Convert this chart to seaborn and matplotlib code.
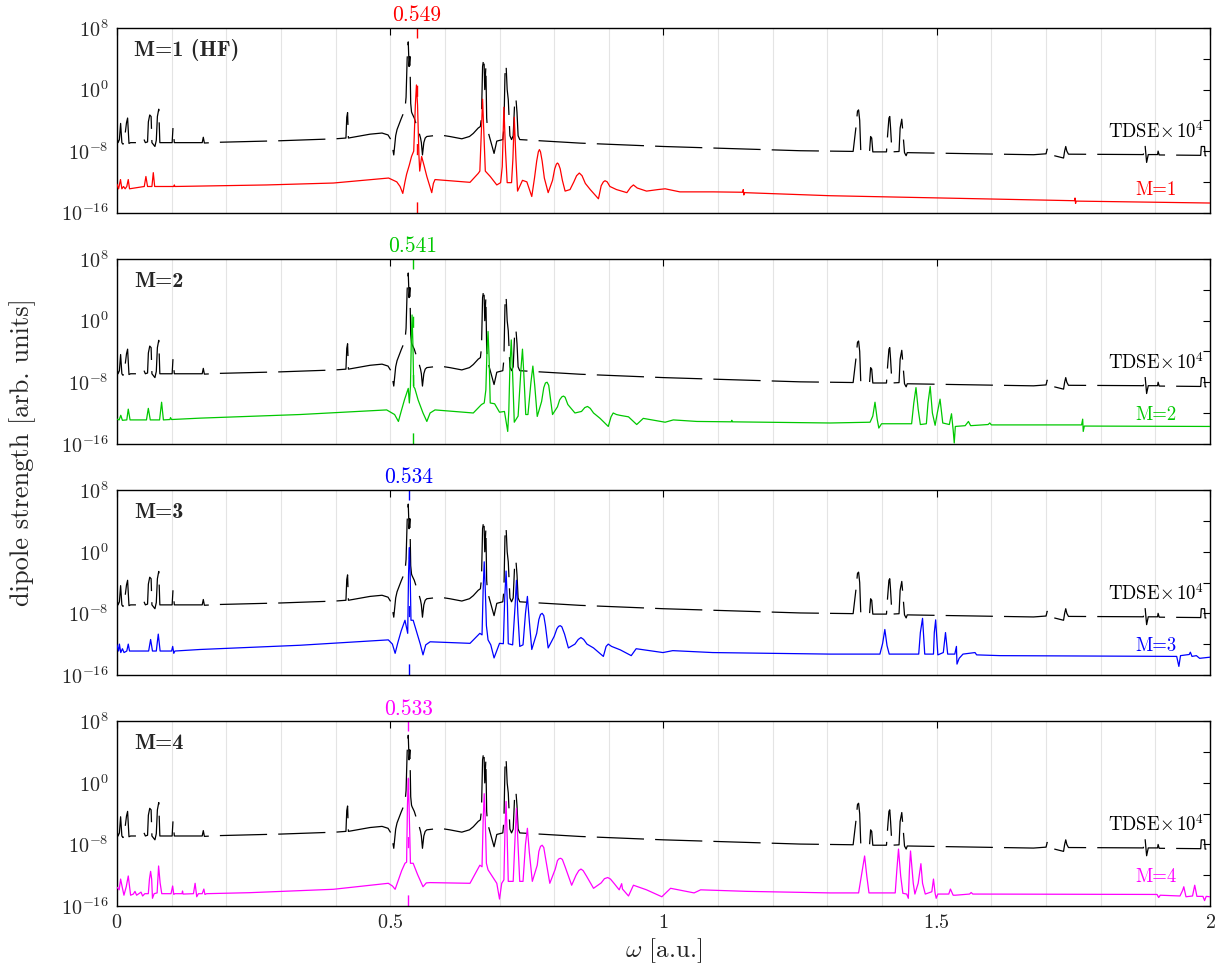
import numpy as np
import pandas as pd
import matplotlib
matplotlib.use("Agg")
import matplotlib.pyplot as plt
from matplotlib.ticker import FixedLocator, FuncFormatter, MultipleLocator, NullLocator
import seaborn as sns

# (omega, log10 dipole strength)
TDSE_PTS = [
    (0.000, -6.2), (0.002, -6.9), (0.0045, -6.5), (0.0067, -4.4), (0.009, -6.9), (0.011, -7.1),
    (0.013, -6.9), (0.0175, -4.3), (0.0195, -3.7), (0.022, -7.0), (0.025, -6.9), (0.046, -6.9),
    (0.049, -6.4), (0.052, -6.9), (0.056, -6.8), (0.0575, -4.2), (0.060, -3.3), (0.0625, -3.5),
    (0.064, -6.9), (0.0695, -7.4), (0.072, -6.6), (0.074, -3.5), (0.0765, -2.55), (0.0785, -6.9),
    (0.101, -6.9), (0.1025, -5.0), (0.105, -6.9), (0.156, -6.9), (0.158, -6.2), (0.160, -6.95),
    (0.187, -6.85), (0.30, -6.65), (0.40, -6.4), (0.419, -6.3), (0.4205, -3.6), (0.422, -3.0),
    (0.4235, -6.3), (0.463, -5.8), (0.485, -5.65), (0.496, -5.9), (0.502, -6.6), (0.5065, -8.5),
    (0.510, -6.0), (0.5125, -5.2), (0.520, -3.8), (0.524, -3.1), (0.527, -2.6), (0.529, -1.0),
    (0.531, 4.0), (0.533, 6.2), (0.5345, 3.0), (0.536, 4.3), (0.5375, -1.8), (0.539, -2.9),
    (0.540, -3.1), (0.544, -3.7), (0.548, -4.6), (0.552, -5.4), (0.5555, -6.3), (0.557, -6.9),
    (0.559, -8.5), (0.5615, -6.9), (0.564, -6.3), (0.567, -6.1), (0.591, -5.9), (0.609, -6.1),
    (0.631, -6.4), (0.645, -6.1), (0.652, -5.7), (0.661, -5.0),
    (0.665, -4.8), (0.667, -3.5), (0.669, 3.0), (0.6715, 4.2), (0.673, 0.0), (0.675, 3.0),
    (0.6765, -3.7), (0.678, -5.2), (0.683, -6.5), (0.690, -8.3), (0.695, -6.7), (0.706, -6.5),
    (0.708, -5.0), (0.710, 2.0), (0.712, 3.2), (0.714, 0.0), (0.716, -1.3), (0.719, -6.0),
    (0.722, -6.5), (0.725, -6.0), (0.7275, -2.0), (0.730, -1.1), (0.732, -3.0), (0.734, -6.0),
    (0.737, -6.5), (0.847, -6.96), (1.000, -7.4), (1.25, -7.95), (1.347, -8.04), (1.352, -5.0),
    (1.355, -2.8), (1.357, -2.64), (1.359, -4.0), (1.361, -8.04), (1.377, -8.1), (1.379, -6.1),
    (1.381, -6.3), (1.383, -8.1), (1.408, -8.1), (1.410, -6.0), (1.4125, -3.7), (1.414, -3.5),
    (1.4155, -5.0), (1.418, -8.1), (1.431, -8.05), (1.433, -5.0), (1.436, -3.85), (1.438, -5.5),
    (1.441, -8.2), (1.444, -8.6), (1.446, -8.2), (1.677, -8.47), (1.700, -8.35), (1.702, -7.74),
    (1.704, -8.4), (1.732, -8.9), (1.734, -8.0), (1.736, -7.4), (1.738, -8.0), (1.741, -8.4),
    (1.878, -8.45), (1.881, -7.1), (1.884, -9.47), (1.887, -8.45), (1.904, -8.45), (1.905, -8.0),
    (1.907, -8.5), (1.983, -8.55), (1.984, -7.4), (1.990, -7.4), (1.991, -8.6), (2.000, -8.6),
]

M1_PTS = [
    (0.000, -12.3), (0.003, -12.9), (0.0065, -11.7), (0.009, -12.9), (0.012, -12.6), (0.015, -12.9),
    (0.018, -12.6), (0.0207, -11.7), (0.023, -12.9), (0.050, -12.6), (0.053, -11.3), (0.056, -12.6),
    (0.064, -12.6), (0.0665, -10.8), (0.069, -12.6), (0.104, -12.6), (0.105, -12.4), (0.106, -12.6),
    (0.274, -12.4), (0.396, -12.15), (0.497, -11.5), (0.512, -12.0), (0.518, -12.6), (0.523, -13.5),
    (0.527, -12.0), (0.530, -11.0), (0.535, -9.8), (0.539, -8.7), (0.543, -8.0), (0.546, -2.0),
    (0.548, 0.6), (0.550, -2.0), (0.5525, -8.5), (0.554, -10.6), (0.5575, -8.7), (0.562, -9.9),
    (0.567, -11.3), (0.576, -13.4), (0.579, -12.2), (0.582, -11.7), (0.646, -12.06),
    (0.661, -10.9), (0.664, -10.6), (0.667, -5.0), (0.669, -1.25), (0.671, -5.0), (0.674, -10.6),
    (0.683, -11.3), (0.695, -12.4), (0.702, -12.1), (0.705, -10.0), (0.708, -2.3), (0.711, -8.0),
    (0.714, -12.1), (0.722, -12.1), (0.7245, -9.0), (0.727, -3.6), (0.730, -9.0), (0.733, -13.2),
    (0.742, -11.8), (0.750, -12.0), (0.759, -13.9), (0.764, -11.5), (0.768, -9.3), (0.771, -8.1),
    (0.773, -7.8), (0.775, -8.1), (0.778, -9.3), (0.782, -11.5), (0.789, -13.4), (0.797, -11.8),
    (0.801, -10.3), (0.804, -9.7), (0.806, -9.55), (0.808, -9.7), (0.811, -10.3), (0.815, -11.8),
    (0.820, -13.2), (0.829, -13.0), (0.836, -12.0), (0.841, -11.2), (0.846, -10.85), (0.851, -11.2),
    (0.857, -12.2), (0.866, -13.0), (0.881, -14.2), (0.886, -12.5), (0.890, -12.0), (0.893, -11.85),
    (0.897, -12.0), (0.902, -12.6), (0.914, -13.0), (0.933, -13.4), (0.940, -12.7), (0.945, -12.4),
    (0.952, -12.8), (0.969, -13.2), (0.990, -13.0), (1.003, -12.9), (1.030, -13.3), (1.091, -13.3),
    (1.145, -13.35), (1.146, -13.0), (1.147, -13.7), (1.148, -13.4), (1.305, -13.8), (1.752, -14.45),
    (1.753, -14.1), (1.754, -14.8), (1.755, -14.5), (2.000, -14.75),
]

M2_PTS = [
    (0.000, -12.8), (0.004, -12.9), (0.007, -12.3), (0.010, -12.95), (0.018, -12.9), (0.0207, -11.5),
    (0.024, -12.9), (0.054, -12.9), (0.0574, -11.4), (0.061, -12.9), (0.078, -12.9), (0.0817, -10.6),
    (0.085, -12.9), (0.097, -12.85), (0.098, -12.6), (0.100, -12.85), (0.152, -12.67), (0.335, -12.2),
    (0.4935, -11.6), (0.508, -12.2), (0.515, -13.1), (0.520, -11.8), (0.526, -10.3), (0.533, -8.8),
    (0.535, -10.7), (0.537, -8.6), (0.5385, -3.0), (0.540, 0.74), (0.5415, -3.0), (0.543, -8.6),
    (0.545, -8.8), (0.551, -10.3), (0.560, -12.0), (0.567, -13.1), (0.573, -12.0), (0.582, -11.6),
    (0.652, -12.0), (0.667, -10.9), (0.672, -10.7), (0.675, -9.0), (0.677, -4.0),
    (0.679, -1.4), (0.681, -5.0), (0.683, -10.7), (0.691, -10.8), (0.700, -11.9), (0.709, -11.8),
    (0.715, -14.4), (0.717, -11.7), (0.719, -6.0), (0.7215, -2.5), (0.724, -7.0), (0.727, -13.2),
    (0.734, -12.4), (0.7395, -6.0), (0.742, -3.7), (0.7445, -7.0), (0.748, -12.2), (0.752, -12.2),
    (0.7575, -8.0), (0.761, -5.9), (0.7645, -8.5), (0.769, -12.45), (0.777, -10.5), (0.781, -8.7),
    (0.784, -8.1), (0.787, -8.0), (0.790, -8.4), (0.793, -10.0), (0.797, -12.2), (0.806, -11.2),
    (0.810, -10.3), (0.814, -9.9), (0.817, -9.8), (0.820, -9.95), (0.825, -10.9), (0.838, -12.0),
    (0.850, -11.8), (0.856, -11.3), (0.861, -11.15), (0.866, -11.4), (0.872, -12.0), (0.884, -12.7),
    (0.899, -13.75), (0.904, -12.5), (0.908, -12.0), (0.914, -12.2),
    (0.920, -12.3), (0.936, -12.5), (0.951, -13.5), (0.963, -12.7), (1.003, -13.2), (1.018, -12.9),
    (1.061, -13.1), (1.124, -13.15), (1.125, -12.95), (1.126, -13.15), (1.305, -13.3), (1.378, -13.2),
    (1.383, -12.4), (1.387, -10.6), (1.391, -12.8), (1.394, -13.96), (1.399, -13.4), (1.454, -13.4),
    (1.458, -10.7), (1.462, -8.7), (1.466, -11.5), (1.470, -13.5), (1.481, -13.4), (1.484, -10.7),
    (1.488, -8.55), (1.492, -12.0), (1.497, -13.6), (1.501, -12.0), (1.506, -10.2), (1.511, -13.3),
    (1.523, -13.5), (1.527, -12.1), (1.530, -14.2), (1.532, -15.9), (1.534, -13.75), (1.552, -13.65),
    (1.558, -13.1), (1.562, -13.65), (1.594, -13.5), (1.597, -13.3), (1.600, -13.55), (1.765, -13.55),
    (1.767, -12.8), (1.768, -14.4), (1.770, -13.7), (2.000, -13.75),
]

M3_PTS = [
    (0.000, -12.1), (0.003, -12.9), (0.0045, -12.0), (0.007, -13.1), (0.010, -12.6), (0.013, -13.1),
    (0.018, -12.9), (0.0207, -12.0), (0.023, -12.9), (0.058, -12.9), (0.0616, -11.4), (0.065, -12.9),
    (0.072, -12.9), (0.0756, -10.7), (0.079, -12.9), (0.100, -12.9), (0.102, -12.3), (0.104, -13.2),
    (0.106, -12.9), (0.152, -12.7), (0.335, -12.15), (0.4965, -11.45), (0.504, -12.0), (0.509, -13.2),
    (0.514, -11.8), (0.520, -10.3), (0.527, -8.9), (0.532, -10.6), (0.5335, -3.0), (0.535, 0.56),
    (0.5365, -3.0), (0.538, -8.9), (0.542, -8.9), (0.550, -10.8), (0.555, -12.0), (0.560, -13.4),
    (0.565, -12.1), (0.573, -11.7), (0.646, -11.9), (0.664, -10.6), (0.668, -10.8), (0.670, -5.0),
    (0.672, -1.3), (0.674, -5.0), (0.676, -9.6), (0.679, -11.45), (0.684, -12.1), (0.690, -13.8),
    (0.700, -11.9), (0.707, -11.95), (0.7095, -6.0), (0.712, -2.5), (0.7145, -7.0), (0.716, -11.95),
    (0.724, -12.1), (0.7285, -7.0), (0.731, -3.7), (0.7335, -8.0), (0.737, -12.3), (0.743, -12.1),
    (0.7475, -8.0), (0.751, -5.8), (0.7545, -9.0), (0.759, -12.7), (0.768, -10.6), (0.772, -8.8),
    (0.775, -8.15), (0.778, -8.0), (0.781, -8.3), (0.784, -9.6), (0.789, -12.5), (0.800, -11.0),
    (0.805, -10.0), (0.808, -9.7), (0.811, -9.6), (0.814, -9.75), (0.819, -10.7), (0.826, -12.5),
    (0.838, -12.0), (0.844, -11.4), (0.849, -11.15), (0.854, -11.4), (0.860, -12.0), (0.872, -12.5),
    (0.890, -13.6), (0.895, -12.3), (0.899, -12.0), (0.905, -12.3),
    (0.921, -12.75), (0.941, -13.5), (0.950, -12.6), (0.999, -13.1), (1.017, -12.85), (1.090, -13.1),
    (1.305, -13.3), (1.396, -13.3), (1.401, -11.9), (1.405, -10.1), (1.409, -12.2), (1.413, -13.3),
    (1.467, -13.3), (1.470, -10.5), (1.474, -8.65), (1.478, -13.3), (1.494, -13.3), (1.4955, -10.5),
    (1.498, -8.85), (1.502, -13.4), (1.512, -13.1), (1.516, -10.5), (1.520, -13.3), (1.533, -13.3),
    (1.536, -12.3), (1.537, -14.6), (1.541, -13.85), (1.548, -13.3), (1.570, -13.1), (1.573, -13.4),
    (1.616, -13.5), (1.939, -13.6), (1.943, -14.9), (1.946, -13.5), (1.962, -13.35), (1.964, -13.05),
    (1.967, -13.6), (1.975, -13.5), (1.981, -13.85), (2.000, -13.7),
]

M4_PTS = [
    (0.000, -13.55), (0.004, -13.9), (0.0067, -12.5), (0.0095, -13.5), (0.0128, -14.6), (0.017, -13.5),
    (0.0207, -12.1), (0.023, -13.5), (0.025, -14.6), (0.030, -14.45), (0.033, -14.1), (0.036, -14.6),
    (0.040, -14.4), (0.044, -14.2), (0.047, -14.7), (0.051, -14.4), (0.0574, -14.4), (0.0595, -12.5),
    (0.0616, -11.5), (0.0635, -12.5), (0.065, -15.0), (0.068, -14.4), (0.0735, -14.3), (0.0762, -10.8),
    (0.079, -13.0), (0.082, -14.4), (0.099, -14.4), (0.1019, -13.4), (0.104, -14.5), (0.106, -14.4),
    (0.119, -14.4), (0.120, -14.05), (0.121, -14.45), (0.140, -14.4), (0.143, -13.05), (0.146, -14.8),
    (0.149, -14.4), (0.156, -14.4), (0.159, -13.8), (0.161, -14.5), (0.164, -14.4), (0.243, -14.27),
    (0.396, -13.83), (0.4965, -13.05), (0.504, -13.4), (0.509, -13.83), (0.515, -12.6), (0.521, -11.4),
    (0.527, -10.45), (0.530, -10.3), (0.5315, -3.0), (0.533, 0.62), (0.5345, -3.0), (0.537, -10.45),
    (0.542, -10.45), (0.550, -11.9), (0.560, -13.5), (0.566, -13.0), (0.573, -12.96),
    (0.646, -13.05), (0.664, -10.7), (0.668, -10.9), (0.670, -5.0), (0.672, -1.4), (0.674, -5.0),
    (0.676, -10.45), (0.679, -11.3), (0.695, -13.05), (0.700, -15.1), (0.704, -13.05), (0.708, -12.6),
    (0.710, -6.0), (0.712, -2.4), (0.714, -7.0), (0.716, -12.8), (0.725, -12.8), (0.7285, -7.0),
    (0.731, -3.3), (0.7335, -7.5), (0.737, -12.8), (0.743, -12.8), (0.7475, -8.0), (0.751, -5.9),
    (0.7545, -9.0), (0.760, -12.8), (0.769, -10.7), (0.772, -8.9), (0.775, -8.25), (0.778, -8.1),
    (0.781, -8.4), (0.784, -9.7), (0.792, -13.05), (0.802, -11.2), (0.806, -10.1), (0.809, -9.85),
    (0.812, -9.8), (0.815, -9.95), (0.820, -10.9), (0.832, -13.3), (0.840, -12.0), (0.845, -11.4),
    (0.849, -11.2), (0.853, -11.4), (0.859, -12.1), (0.872, -13.7), (0.886, -13.0), (0.892, -12.45),
    (0.898, -12.3), (0.903, -12.5), (0.910, -13.1), (0.919, -13.9),
    (0.9235, -13.1), (0.925, -13.8), (0.936, -14.7), (0.945, -13.3), (0.969, -13.9), (0.997, -14.8),
    (1.013, -13.7), (1.056, -14.3), (1.068, -13.9), (1.153, -14.1), (1.305, -14.3), (1.357, -14.3),
    (1.363, -11.7), (1.368, -9.5), (1.372, -12.1), (1.376, -14.3), (1.424, -14.3), (1.427, -11.3),
    (1.430, -8.6), (1.434, -12.1), (1.438, -14.35), (1.445, -14.45), (1.448, -15.0), (1.450, -11.3),
    (1.452, -8.85), (1.457, -13.05), (1.460, -14.45), (1.466, -13.05), (1.471, -10.5), (1.474, -13.05),
    (1.479, -14.45), (1.491, -14.15), (1.494, -12.5), (1.497, -14.35), (1.499, -15.0), (1.502, -14.45),
    (1.522, -14.45), (1.525, -13.8), (1.530, -14.6), (1.534, -14.6), (1.560, -14.45), (1.563, -14.25),
    (1.566, -14.45), (1.903, -14.5), (1.906, -14.9), (1.909, -14.6), (1.945, -14.7), (1.950, -13.95),
    (1.952, -13.5), (1.956, -14.8), (1.968, -14.7), (1.972, -13.3), (1.976, -14.75), (1.987, -14.75),
    (1.990, -15.3), (1.993, -14.75), (2.000, -14.8),
]

MODEL_PTS = [M1_PTS, M2_PTS, M3_PTS, M4_PTS]
PANEL_TITLES = ["M=1 (HF)", "M=2", "M=3", "M=4"]
CURVE_LABELS = ["M=1", "M=2", "M=3", "M=4"]
RESONANCES = [0.549, 0.541, 0.534, 0.533]
COLORS = ["#ff0000", "#00c800", "#0000ff", "#ff00ff"]
LABEL_Y = [0.124, 0.157, 0.157, 0.157]
Y_TICKS = [1e-16, 1e-12, 1e-8, 1e-4, 1e0, 1e4, 1e8]


def to_frame(pts):
    df = pd.DataFrame(pts, columns=["omega", "logd"])
    df["d"] = 10.0 ** df["logd"]
    return df


def ylabel_fmt(v, pos):
    e = int(round(np.log10(v)))
    return r"$10^{%d}$" % e if e % 8 == 0 else ""


sns.set_theme(style="white")
plt.rcParams["font.family"] = ["cmr10", "DejaVu Serif"]
plt.rcParams["mathtext.fontset"] = "cm"
plt.rcParams["axes.formatter.use_mathtext"] = True
plt.rcParams["lines.scale_dashes"] = False

fig, axes = plt.subplots(4, 1, figsize=(12.22, 9.67), dpi=100, sharex=True)
fig.subplots_adjust(left=0.0957, right=0.9902, top=0.971, bottom=0.0631, hspace=0.252)

tdse = to_frame(TDSE_PTS)

for i, ax in enumerate(axes):
    ax.axvline(RESONANCES[i], color=COLORS[i], lw=1.0, linestyle=(0, (8, 34)), zorder=1)
    sns.lineplot(data=tdse, x="omega", y="d", ax=ax, color="black", lw=0.9,
                 estimator=None, sort=False, linestyle=(0, (34, 8)), zorder=2)
    sns.lineplot(data=to_frame(MODEL_PTS[i]), x="omega", y="d", ax=ax, color=COLORS[i],
                 lw=0.9, estimator=None, sort=False, zorder=3)

    ax.set_yscale("log")
    ax.set_ylim(1e-16, 1e8)
    ax.set_xlim(0, 2)
    ax.set_xlabel("")
    ax.set_ylabel("")

    ax.yaxis.set_major_locator(FixedLocator(Y_TICKS))
    ax.yaxis.set_minor_locator(NullLocator())
    ax.yaxis.set_major_formatter(FuncFormatter(ylabel_fmt))
    ax.xaxis.set_major_locator(MultipleLocator(0.5))
    ax.xaxis.set_minor_locator(MultipleLocator(0.1))
    ax.xaxis.set_major_formatter(FuncFormatter(lambda v, p: r"$%g$" % v))

    ax.grid(True, which="both", axis="x", color="#e4e4e4", lw=0.8)
    ax.grid(False, axis="y")
    ax.set_axisbelow(True)
    ax.tick_params(which="major", direction="in", top=True, right=True, length=5,
                   width=0.8, color="black", labelsize=14.5, pad=6)
    ax.tick_params(which="minor", length=0)
    for s in ax.spines.values():
        s.set_color("black")
        s.set_linewidth(1.0)

    ax.text(0.0155, 0.88, PANEL_TITLES[i], transform=ax.transAxes, fontsize=16,
            fontfamily="cmb10", ha="left", va="center")
    ax.text(0.9506, 0.44, r"TDSE$\times\,10^{4}$", transform=ax.transAxes, fontsize=13.5,
            ha="center", va="center", color="black")
    ax.text(0.9506, LABEL_Y[i], CURVE_LABELS[i], transform=ax.transAxes, fontsize=13.5,
            ha="center", va="center", color=COLORS[i])
    ax.annotate("%.3f" % RESONANCES[i], xy=(RESONANCES[i], 1.0),
                xycoords=("data", "axes fraction"), xytext=(0, 2), textcoords="offset points",
                ha="center", va="bottom", fontsize=15.5, color=COLORS[i])

for ax in axes[:-1]:
    ax.tick_params(labelbottom=False)

axes[-1].set_xlabel(r"$\omega$ [a.u.]", fontsize=18, labelpad=3)
fig.text(0.0185, 0.533, "dipole strength [arb. units]", rotation=90, fontsize=19,
         ha="center", va="center")

fig.savefig("out.png", dpi=100)
